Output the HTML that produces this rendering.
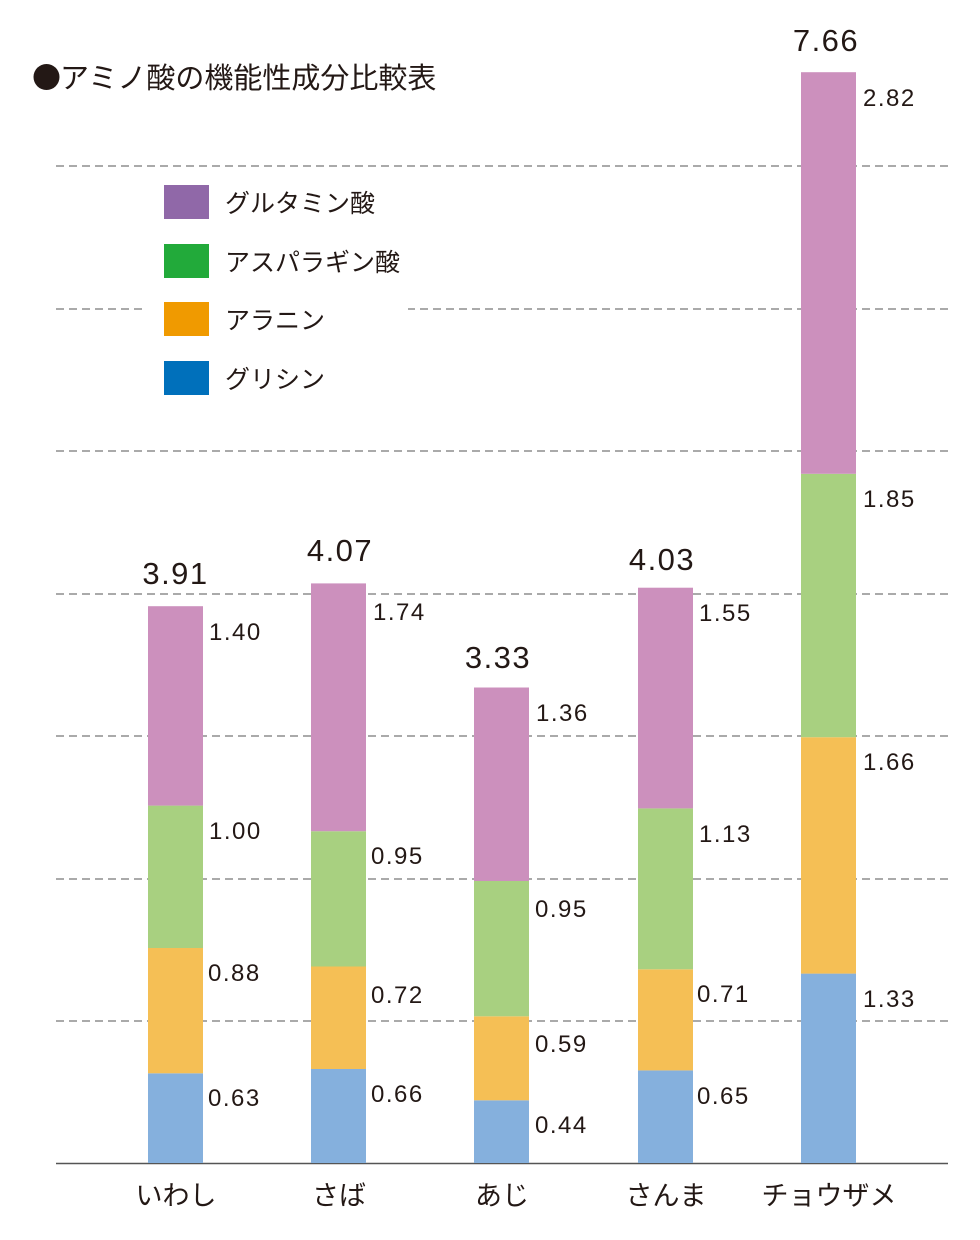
<!DOCTYPE html>
<html><head><meta charset="utf-8"><style>
html,body{margin:0;padding:0;background:#fff}
svg{display:block}
text{font-family:"Liberation Sans","Noto Sans CJK JP",sans-serif;fill:#231815}
</style></head><body>
<svg width="980" height="1240" viewBox="0 0 980 1240" xmlns="http://www.w3.org/2000/svg">
<g stroke="#777" stroke-width="1.2" stroke-dasharray="8,5">
<line x1="56" y1="166" x2="948" y2="166"/>
<line x1="56" y1="309" x2="948" y2="309"/>
<line x1="56" y1="451" x2="948" y2="451"/>
<line x1="56" y1="594" x2="948" y2="594"/>
<line x1="56" y1="736" x2="948" y2="736"/>
<line x1="56" y1="879" x2="948" y2="879"/>
<line x1="56" y1="1021" x2="948" y2="1021"/>
</g>
<rect x="146" y="180" width="262" height="220" fill="#fff"/>
<line x1="56" y1="1163.5" x2="948" y2="1163.5" stroke="#555" stroke-width="1.5"/>

<circle cx="46.5" cy="77" r="13" fill="#231815"/>
<text x="60" y="88" font-size="29">アミノ酸の機能性成分比較表</text>

<rect x="164" y="185" width="45" height="34" fill="#9068a8"/>
<rect x="164" y="244" width="45" height="34" fill="#22aa3a"/>
<rect x="164" y="302" width="45" height="34" fill="#f09a00"/>
<rect x="164" y="361" width="45" height="34" fill="#0070bb"/>
<g font-size="25">
<text x="225" y="212">グルタミン酸</text>
<text x="225" y="271">アスパラギン酸</text>
<text x="225" y="329">アラニン</text>
<text x="225" y="388">グリシン</text>
</g>

<g>
<rect x="148" y="1073.3" width="55" height="89.7" fill="#85b0dd"/>
<rect x="148" y="948" width="55" height="125.3" fill="#f5bf55"/>
<rect x="148" y="805.6" width="55" height="142.4" fill="#a8d080"/>
<rect x="148" y="606.2" width="55" height="199.4" fill="#cc90bd"/>

<rect x="311" y="1069" width="55" height="94" fill="#85b0dd"/>
<rect x="311" y="966.5" width="55" height="102.5" fill="#f5bf55"/>
<rect x="311" y="831.2" width="55" height="135.3" fill="#a8d080"/>
<rect x="311" y="583.4" width="55" height="247.8" fill="#cc90bd"/>

<rect x="474" y="1100.3" width="55" height="62.7" fill="#85b0dd"/>
<rect x="474" y="1016.3" width="55" height="84" fill="#f5bf55"/>
<rect x="474" y="881" width="55" height="135.3" fill="#a8d080"/>
<rect x="474" y="687.5" width="55" height="193.5" fill="#cc90bd"/>

<rect x="638" y="1070.4" width="55" height="92.6" fill="#85b0dd"/>
<rect x="638" y="969.3" width="55" height="101.1" fill="#f5bf55"/>
<rect x="638" y="808.4" width="55" height="160.9" fill="#a8d080"/>
<rect x="638" y="587.7" width="55" height="220.7" fill="#cc90bd"/>

<rect x="801" y="973.6" width="55" height="189.4" fill="#85b0dd"/>
<rect x="801" y="737.2" width="55" height="236.4" fill="#f5bf55"/>
<rect x="801" y="473.8" width="55" height="263.4" fill="#a8d080"/>
<rect x="801" y="72.2" width="55" height="401.6" fill="#cc90bd"/>
</g>

<g font-size="24" letter-spacing="1.5">
<text x="209" y="640">1.40</text>
<text x="209" y="839">1.00</text>
<text x="208" y="981">0.88</text>
<text x="208" y="1106">0.63</text>

<text x="373" y="620">1.74</text>
<text x="371" y="864">0.95</text>
<text x="371" y="1003">0.72</text>
<text x="371" y="1102">0.66</text>

<text x="536" y="721">1.36</text>
<text x="535" y="917">0.95</text>
<text x="535" y="1052">0.59</text>
<text x="535" y="1133">0.44</text>

<text x="699" y="621">1.55</text>
<text x="699" y="842">1.13</text>
<text x="697" y="1002">0.71</text>
<text x="697" y="1104">0.65</text>

<text x="863" y="106">2.82</text>
<text x="863" y="507">1.85</text>
<text x="863" y="770">1.66</text>
<text x="863" y="1007">1.33</text>
</g>

<g font-size="31" text-anchor="middle" letter-spacing="1.5">
<text x="175.5" y="584">3.91</text>
<text x="340" y="561">4.07</text>
<text x="498" y="668">3.33</text>
<text x="662" y="570">4.03</text>
<text x="826" y="51">7.66</text>
</g>

<g font-size="27" text-anchor="middle">
<text x="176" y="1205">いわし</text>
<text x="339" y="1205">さば</text>
<text x="502" y="1205">あじ</text>
<text x="666" y="1205">さんま</text>
<text x="829" y="1205">チョウザメ</text>
</g>
</svg>
</body></html>
